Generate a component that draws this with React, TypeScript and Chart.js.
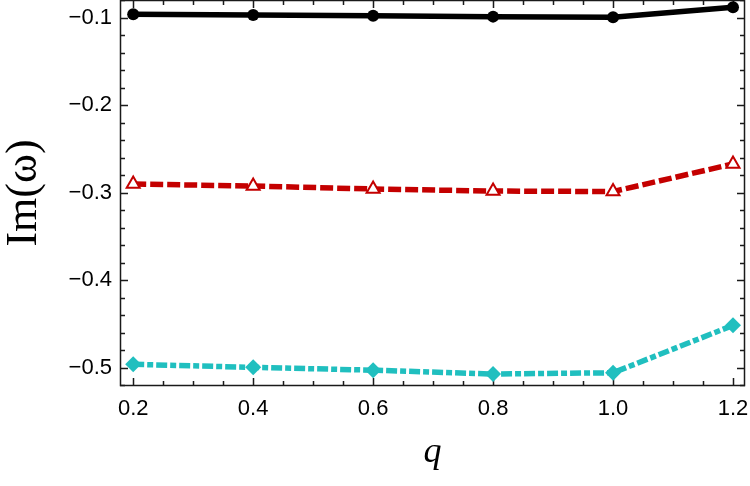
import React, { useEffect, useRef } from "react";
import { Chart, registerables } from "chart.js";

Chart.register(...registerables);

const qValues = [0.2, 0.4, 0.6, 0.8, 1.0, 1.2];
const mode1 = [-0.0963, -0.0971, -0.098, -0.099, -0.0998, -0.0883];
const mode2 = [-0.2903, -0.2926, -0.296, -0.2983, -0.2989, -0.2674];
const mode3 = [-0.4963, -0.4998, -0.503, -0.5074, -0.506, -0.4518];

const xTicks = [0.2, 0.4, 0.6, 0.8, 1.0, 1.2];
const yTicks = [-0.5, -0.4, -0.3, -0.2, -0.1];
const xMinorStep = 0.05;
const yMinorStep = 0.02;

const X_MIN = 0.178;
const X_MAX = 1.22;
const Y_MIN = -0.5211;
const Y_MAX = -0.08;

const fmtY = (v: number) => (v < 0 ? "\u2212" : "") + Math.abs(v).toFixed(1);
const fmtX = (v: number) => v.toFixed(1);

const framePlugin = {
  id: "frameTicks",
  beforeDatasetsDraw(chart: any) {
    const { ctx, chartArea: a, scales } = chart;
    const x = scales.x;
    const y = scales.y;
    ctx.save();
    ctx.strokeStyle = "#1a1a1a";
    ctx.lineWidth = 1.5;
    ctx.strokeRect(a.left + 0.5, a.top + 0.5, a.right - a.left - 1, a.bottom - a.top - 1);
    const isMajor = (v: number, list: number[]) => list.some((t) => Math.abs(t - v) < 1e-6);
    ctx.beginPath();
    for (let k = Math.ceil(X_MIN / xMinorStep); k * xMinorStep <= X_MAX + 1e-9; k++) {
      const v = k * xMinorStep;
      const px = Math.round(x.getPixelForValue(v)) + 0.5;
      const len = isMajor(v, xTicks) ? 8 : 5;
      ctx.moveTo(px, a.bottom);
      ctx.lineTo(px, a.bottom - len);
      ctx.moveTo(px, a.top);
      ctx.lineTo(px, a.top + len);
    }
    for (let k = Math.ceil(Y_MIN / yMinorStep); k * yMinorStep <= Y_MAX + 1e-9; k++) {
      const v = k * yMinorStep;
      const py = Math.round(y.getPixelForValue(v)) + 0.5;
      const len = isMajor(v, yTicks) ? 8 : 5;
      ctx.moveTo(a.left, py);
      ctx.lineTo(a.left + len, py);
      ctx.moveTo(a.right, py);
      ctx.lineTo(a.right - len, py);
    }
    ctx.stroke();
    ctx.restore();
  },
};

export default function App() {
  const canvasRef = useRef<HTMLCanvasElement | null>(null);

  useEffect(() => {
    document.body.style.margin = "0";
    const canvas = canvasRef.current;
    if (!canvas) return;
    const toPts = (ys: number[]) => qValues.map((q, i) => ({ x: q, y: ys[i] }));
    const chart = new Chart(canvas, {
      type: "line",
      data: {
        datasets: [
          {
            label: "mode 3",
            data: toPts(mode3),
            borderColor: "#20bfbf",
            backgroundColor: "#20bfbf",
            borderWidth: 5.5,
            borderDash: [11, 3, 6, 3],
            pointStyle: "rectRot",
            pointRadius: 8,
            pointBorderWidth: 0,
            pointBackgroundColor: "#20bfbf",
            tension: 0,
            clip: false,
          },
          {
            label: "mode 2",
            data: toPts(mode2),
            borderColor: "#c40000",
            backgroundColor: "#ffffff",
            borderWidth: 5.5,
            borderDash: [13, 4],
            pointStyle: "triangle",
            pointRadius: 7.5,
            pointBorderWidth: 2,
            pointBorderColor: "#c40000",
            pointBackgroundColor: "#ffffff",
            tension: 0,
            clip: false,
          },
          {
            label: "mode 1",
            data: toPts(mode1),
            borderColor: "#000000",
            backgroundColor: "#000000",
            borderWidth: 5.5,
            pointStyle: "circle",
            pointRadius: 6,
            pointBorderWidth: 0,
            pointBackgroundColor: "#000000",
            tension: 0,
            clip: false,
          },
        ],
      },
      options: {
        animation: false,
        responsive: false,
        layout: { autoPadding: false, padding: { top: 0, right: 5, bottom: 0, left: 0 } },
        plugins: {
          legend: { display: false },
          tooltip: { enabled: false },
        },
        scales: {
          x: {
            type: "linear",
            min: X_MIN,
            max: X_MAX,
            grid: { display: false, drawTicks: false },
            border: { display: false },
            afterBuildTicks: (scale: any) => {
              scale.ticks = xTicks.map((v) => ({ value: v }));
            },
            afterFit: (scale: any) => {
              scale.height = 100;
              scale.paddingLeft = 0;
              scale.paddingRight = 0;
            },
            ticks: {
              autoSkip: false,
              maxRotation: 0,
              padding: 10,
              color: "#000",
              font: { family: "'Liberation Sans', Arial, sans-serif", size: 22 },
              callback: (v: any) => fmtX(Number(v)),
            },
            title: {
              display: true,
              text: "q",
              color: "#000",
              font: { family: "'Liberation Serif', 'Times New Roman', serif", size: 36, style: "italic", lineHeight: 1 },
              padding: { top: 0, bottom: 15 },
            },
          },
          y: {
            type: "linear",
            min: Y_MIN,
            max: Y_MAX,
            grid: { display: false, drawTicks: false },
            border: { display: false },
            afterBuildTicks: (scale: any) => {
              scale.ticks = yTicks.map((v) => ({ value: v }));
            },
            afterFit: (scale: any) => {
              scale.width = 120;
              scale.paddingTop = 0;
              scale.paddingBottom = 0;
            },
            ticks: {
              autoSkip: false,
              padding: 8,
              color: "#000",
              font: { family: "'Liberation Sans', Arial, sans-serif", size: 22 },
              callback: (v: any) => fmtY(Number(v)),
            },
            title: {
              display: true,
              text: "Im(\u03C9)",
              color: "#000",
              font: { family: "'Liberation Serif', 'Times New Roman', serif", size: 44, lineHeight: 1 },
              padding: { top: 2, bottom: 0 },
            },
          },
        },
      },
      plugins: [framePlugin],
    });
    return () => chart.destroy();
  }, []);

  return (
    <div style={{ width: 750, height: 486 }}>
      <canvas ref={canvasRef} width={750} height={486} style={{ display: "block" }} />
    </div>
  );
}
